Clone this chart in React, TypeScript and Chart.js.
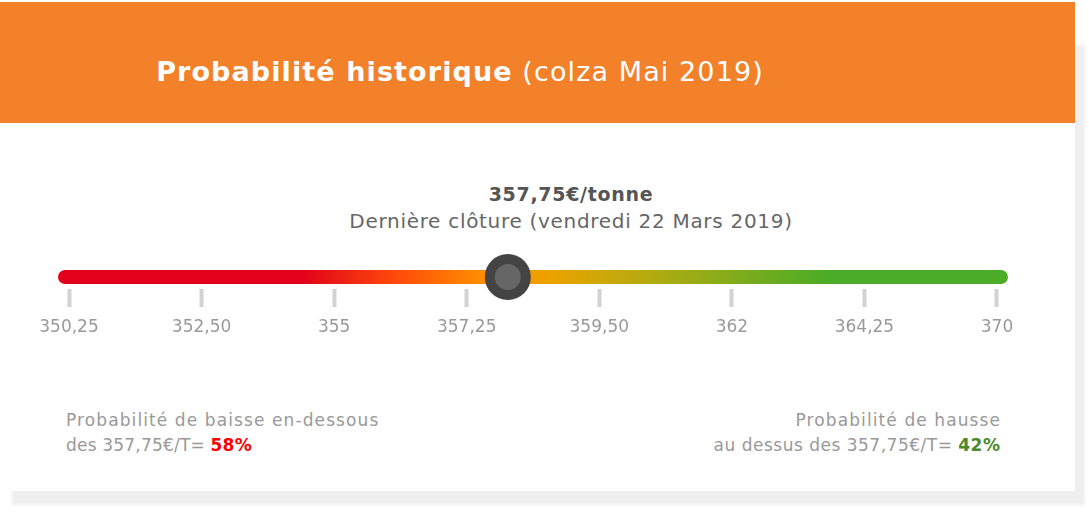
import React, { useEffect, useRef } from "react";
import { Chart, registerables } from "chart.js";

Chart.register(...registerables);

// ---- data ----
const tickLabels = ["350,25", "352,50", "355", "357,25", "359,50", "362", "364,25", "370"];
const tickPositions = [0, 1, 2, 3, 4, 5, 6, 7];
const gaugeRange = [-0.03, 7.03];
const markerPosition = [3.31];
const lastCloseText = "357,75";
const probBelow = 58;
const probAbove = 42;

// ---- styles ----
const FONT = "'DejaVu Sans', 'Open Sans', sans-serif";
const gradientStops: [number, string][] = [
  [0, "#E2001A"],
  [0.255, "#E2001A"],
  [0.36, "#FF4D0A"],
  [0.44, "#FF8A00"],
  [0.52, "#EBA300"],
  [0.62, "#B5AB10"],
  [0.81, "#4BAC27"],
  [1, "#4BAC27"],
];

function GaugeChart() {
  const ref = useRef<HTMLCanvasElement | null>(null);
  useEffect(() => {
    if (!ref.current) return;
    const chart = new Chart(ref.current, {
      type: "scatter",
      data: {
        datasets: [
          {
            type: "scatter",
            data: markerPosition.map((x) => ({ x, y: 0 })),
            pointRadius: 18,
            pointHoverRadius: 18,
            borderWidth: 10,
            backgroundColor: "#666666",
            borderColor: "#444444",
            clip: false,
            order: 1,
          } as any,
          {
            type: "line",
            data: gaugeRange.map((x) => ({ x, y: 0 })),
            showLine: true,
            borderWidth: 14,
            borderCapStyle: "round",
            pointRadius: 0,
            pointHoverRadius: 0,
            clip: false,
            order: 2,
            borderColor: (ctx: any) => {
              const area = ctx.chart.chartArea;
              if (!area) return "#E2001A";
              const g = ctx.chart.ctx.createLinearGradient(area.left, 0, area.right, 0);
              gradientStops.forEach(([p, c]) => g.addColorStop(p, c));
              return g;
            },
          } as any,
        ],
      },
      options: {
        animation: false,
        responsive: false,
        devicePixelRatio: 1,
        events: [],
        layout: { padding: { left: 58, right: 67, top: 35, bottom: 0 } },
        plugins: { legend: { display: false }, tooltip: { enabled: false }, title: { display: false } },
        scales: {
          x: {
            type: "linear",
            min: -0.083,
            max: 7.083,
            afterBuildTicks: (s: any) => {
              s.ticks = tickPositions.map((v) => ({ value: v }));
            },
            afterFit: (s: any) => {
              s.height = 71;
            },
            ticks: {
              autoSkip: false,
              maxRotation: 0,
              padding: 10,
              color: "#999999",
              font: { family: FONT, size: 17 },
              callback: (_v: any, i: number) => tickLabels[i],
            },
            grid: {
              drawOnChartArea: false,
              drawTicks: true,
              tickLength: 18,
              tickWidth: 4,
              tickColor: "#d2d2d2",
            },
            border: { display: false },
          },
          y: { type: "linear", min: -1, max: 1, display: false },
        },
      } as any,
    });
    return () => chart.destroy();
  }, []);
  return (
    <canvas
      ref={ref}
      width={1075}
      height={130}
      style={{ position: "absolute", left: 0, top: 230, width: 1075, height: 130 }}
    />
  );
}

export default function App() {
  return (
    <div style={{ position: "relative", width: 1089, height: 515, overflow: "hidden", fontFamily: FONT, background: "#fff" }}>
      <style>{"body{margin:0}"}</style>
      <div style={{ position: "absolute", left: 12, top: 45, width: 1073, height: 460, background: "#efefef", filter: "blur(1.5px)" }} />
      <div style={{ position: "absolute", left: 0, top: 2, width: 1075, height: 489, background: "#ffffff" }} />
      <div style={{ position: "absolute", left: 0, top: 2, width: 1075, height: 121, background: "#F28129" }} />
      <div
        style={{
          position: "absolute",
          left: 0,
          top: 56,
          width: 920,
          textAlign: "center",
          color: "#ffffff",
          fontSize: 27,
          letterSpacing: "1.1px",
          lineHeight: "32px",
          whiteSpace: "nowrap",
        }}
      >
        <span style={{ fontWeight: 700 }}>Probabilité historique</span> (colza Mai 2019)
      </div>
      <div
        style={{
          position: "absolute",
          left: 0,
          top: 181,
          width: 1142,
          textAlign: "center",
          color: "#555555",
          fontSize: 19,
          fontWeight: 700,
          letterSpacing: "0.7px",
          lineHeight: "26px",
          whiteSpace: "nowrap",
        }}
      >
        {lastCloseText}€/tonne
      </div>
      <div
        style={{
          position: "absolute",
          left: 0,
          top: 207,
          width: 1142,
          textAlign: "center",
          color: "#666666",
          fontSize: 20,
          letterSpacing: "0.7px",
          lineHeight: "28px",
          whiteSpace: "nowrap",
        }}
      >
        Dernière clôture (vendredi 22 Mars 2019)
      </div>
      <GaugeChart />
      <div
        style={{
          position: "absolute",
          left: 66,
          top: 408,
          color: "#999999",
          fontSize: 17,
          lineHeight: "25px",
          whiteSpace: "nowrap",
        }}
      >
        <div style={{ letterSpacing: "1.1px" }}>Probabilité de baisse en-dessous</div>
        <div style={{ letterSpacing: "0.2px" }}>
          des {lastCloseText}€/T= <span style={{ color: "#ff0000", fontWeight: 700 }}>{probBelow}%</span>
        </div>
      </div>
      <div
        style={{
          position: "absolute",
          right: 1089 - 1000,
          top: 408,
          color: "#999999",
          fontSize: 17,
          lineHeight: "25px",
          textAlign: "right",
          whiteSpace: "nowrap",
        }}
      >
        <div style={{ letterSpacing: "1.1px", marginRight: "-1.1px" }}>Probabilité de hausse</div>
        <div style={{ letterSpacing: "0.5px", marginRight: "-0.5px" }}>
          au dessus des {lastCloseText}€/T= <span style={{ color: "#4a8a2c", fontWeight: 700 }}>{probAbove}%</span>
        </div>
      </div>
    </div>
  );
}
